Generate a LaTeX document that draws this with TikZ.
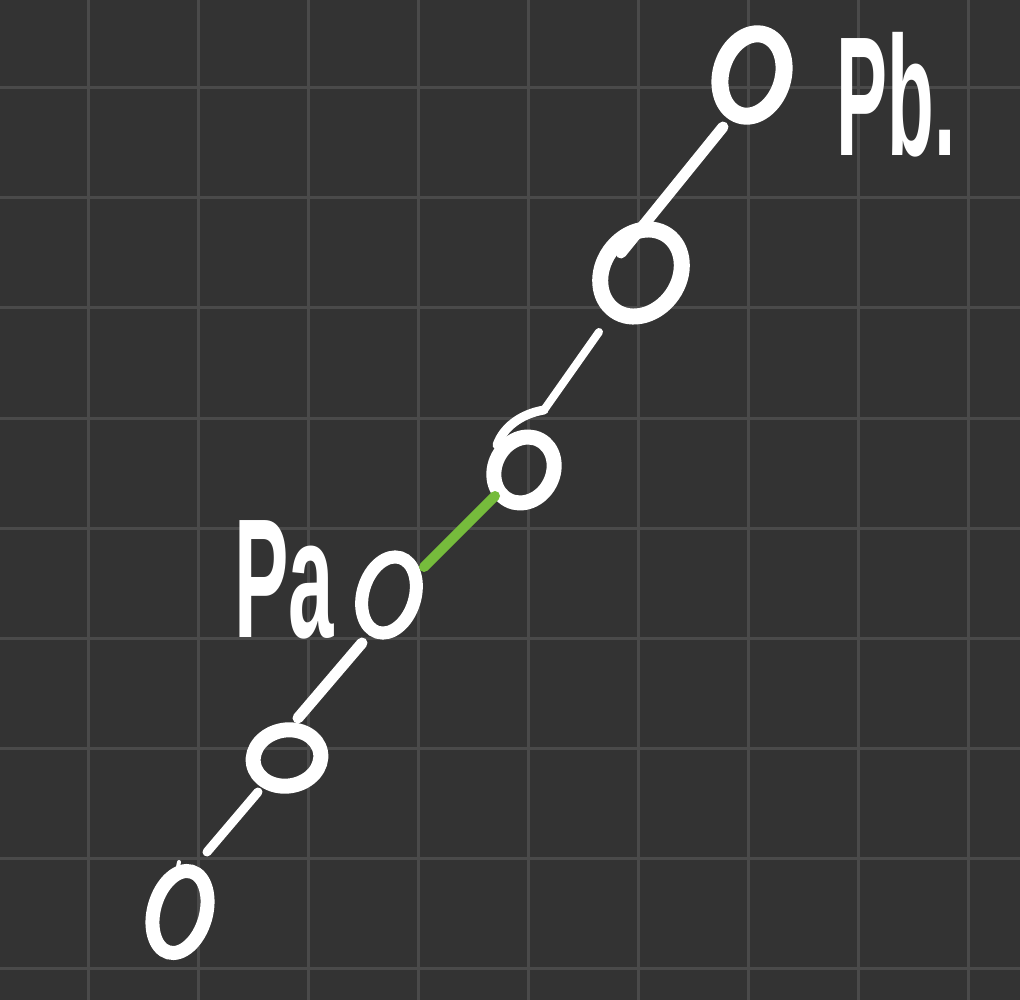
\documentclass[tikz,border=0pt]{standalone}
\usepackage{fontspec}
\setmainfont{Liberation Sans}
\usetikzlibrary{shapes.geometric}
\definecolor{bg}{HTML}{333333}
\definecolor{gridc}{HTML}{4A4A4A}
\definecolor{grn}{HTML}{76BC3C}
\begin{document}
\begin{tikzpicture}[x=1pt,y=-1pt,
  ring/.style={draw=white, ellipse, inner sep=0pt, outer sep=0pt},
  link/.style={draw=white, line cap=round, line width=9pt},
  lbl/.style={text=white, font=\fontsize{170}{170}\selectfont\bfseries, inner sep=0pt}]
\useasboundingbox (0,0) rectangle (1020,1000);
\fill[bg] (0,0) rectangle (1020,1000);
\foreach \k in {0,...,8} {
  \draw[gridc, line width=3pt] ({88+110*\k},0) -- ({88+110*\k},1000);
  \draw[gridc, line width=3pt] (0,{88+110*\k}) -- (1020,{88+110*\k});
}
% rings
\node[ring, line width=17pt, minimum width=62pt, minimum height=84pt, rotate=-17] (c1) at (752,75) {};
\node[ring, line width=16pt, minimum width=76pt, minimum height=92pt, rotate=-35] (c2) at (641,273) {};
\node[ring, line width=15pt, minimum width=58pt, minimum height=68pt, rotate=-28] (c3) at (524,470) {};
\node[ring, line width=13pt, minimum width=52pt, minimum height=78pt, rotate=-17] (c4) at (389,595) {};
\node[ring, line width=15pt, minimum width=68pt, minimum height=56pt, rotate=10] (c5) at (287,758) {};
\node[ring, line width=14pt, minimum width=52pt, minimum height=84pt, rotate=-16] (c6) at (180,912) {};
% connector ends
\coordinate (a1) at (723,127); \coordinate (a2) at (621,253);
\coordinate (b1) at (599,332); \coordinate (b2) at (544,410);
\coordinate (g1) at (495,496); \coordinate (g2) at (424,567);
\coordinate (d1) at (362,643); \coordinate (d2) at (298,718);
\coordinate (e1) at (258,792); \coordinate (e2) at (207,852);
\coordinate (t1) at (177,872); \coordinate (t2) at (179,862);
\draw[link, line width=11pt] (a1) -- (a2);
\draw[link, line width=8pt] (b1) -- (b2);
\draw[link] (b2) .. controls (520,414) and (503,428) .. (497,445);
\draw[link, draw=grn, line width=10pt] (g1) -- (g2);
\draw[link, line width=11pt] (d1) -- (d2);
\draw[link, line width=9pt] (e1) -- (e2);
\draw[link, line width=4pt] (t1) -- (t2);
% labels
\node[lbl, xscale=0.48] (pa) at (284,580) {Pa};
\node[lbl, xscale=0.45] (pb) at (896,95) {Pb.};
\end{tikzpicture}
\end{document}
